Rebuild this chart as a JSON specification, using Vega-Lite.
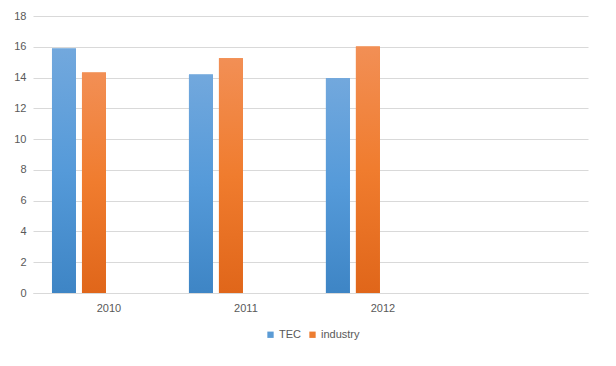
{
  "$schema": "https://vega.github.io/schema/vega-lite/v6.json",
  "width": 555,
  "height": 277,
  "autosize": {"type": "none"},
  "padding": {"left": 33, "top": 16, "right": 28, "bottom": 73},
  "background": "white",
  "config": {
    "view": {"stroke": null},
    "font": "Liberation Sans",
    "axis": {"labelFont": "Liberation Sans", "labelFontSize": 11, "labelColor": "#595959"},
    "legend": {"labelFont": "Liberation Sans", "labelFontSize": 11, "labelColor": "#595959"}
  },
  "data": {
    "values": [
      {"year": "2010", "series": "TEC", "value": 15.88},
      {"year": "2010", "series": "industry", "value": 14.33},
      {"year": "2011", "series": "TEC", "value": 14.2},
      {"year": "2011", "series": "industry", "value": 15.25},
      {"year": "2012", "series": "TEC", "value": 13.95},
      {"year": "2012", "series": "industry", "value": 16.02}
    ]
  },
  "encoding": {
    "x": {
      "field": "year",
      "type": "nominal",
      "scale": {"domain": ["2010", "2011", "2012", ""], "paddingInner": 0.168, "paddingOuter": 0.11, "align": 0.63},
      "axis": {"title": null, "labelAngle": 0, "ticks": false, "tickSize": 0, "labelPadding": 9, "domainColor": "#d9d9d9", "grid": false}
    },
    "xOffset": {
      "field": "series",
      "type": "nominal",
      "scale": {"domain": ["TEC", "industry", "s3", "s4"], "paddingInner": 0.2, "paddingOuter": 0}
    },
    "y": {
      "field": "value",
      "type": "quantitative",
      "scale": {"domain": [0, 18], "nice": false},
      "axis": {"title": null, "values": [0, 2, 4, 6, 8, 10, 12, 14, 16, 18], "grid": true, "gridColor": "#d9d9d9", "domain": false, "ticks": false, "tickSize": 0, "labelPadding": 7}
    }
  },
  "layer": [
    {
      "mark": {"type": "bar"},
      "encoding": {
        "color": {
          "field": "series",
          "type": "nominal",
          "scale": {"domain": ["TEC", "industry"], "range": ["#5b9bd5", "#ed7d31"]},
          "legend": {"title": null, "orient": "none", "legendX": 232, "legendY": 313, "direction": "horizontal", "symbolType": "square", "symbolSize": 40, "labelOffset": 3, "columnPadding": 6}
        }
      }
    },
    {
      "transform": [{"filter": "datum.series === 'TEC'"}],
      "mark": {
        "type": "bar",
        "fill": {"gradient": "linear", "x1": 0, "y1": 0, "x2": 0, "y2": 1, "stops": [{"offset": 0, "color": "#72a8dd"}, {"offset": 0.5, "color": "#559ad9"}, {"offset": 1, "color": "#3e85c5"}]}
      }
    },
    {
      "transform": [{"filter": "datum.series === 'industry'"}],
      "mark": {
        "type": "bar",
        "fill": {"gradient": "linear", "x1": 0, "y1": 0, "x2": 0, "y2": 1, "stops": [{"offset": 0, "color": "#f28f55"}, {"offset": 0.5, "color": "#f07c2e"}, {"offset": 1, "color": "#e0661a"}]}
      }
    }
  ]
}
